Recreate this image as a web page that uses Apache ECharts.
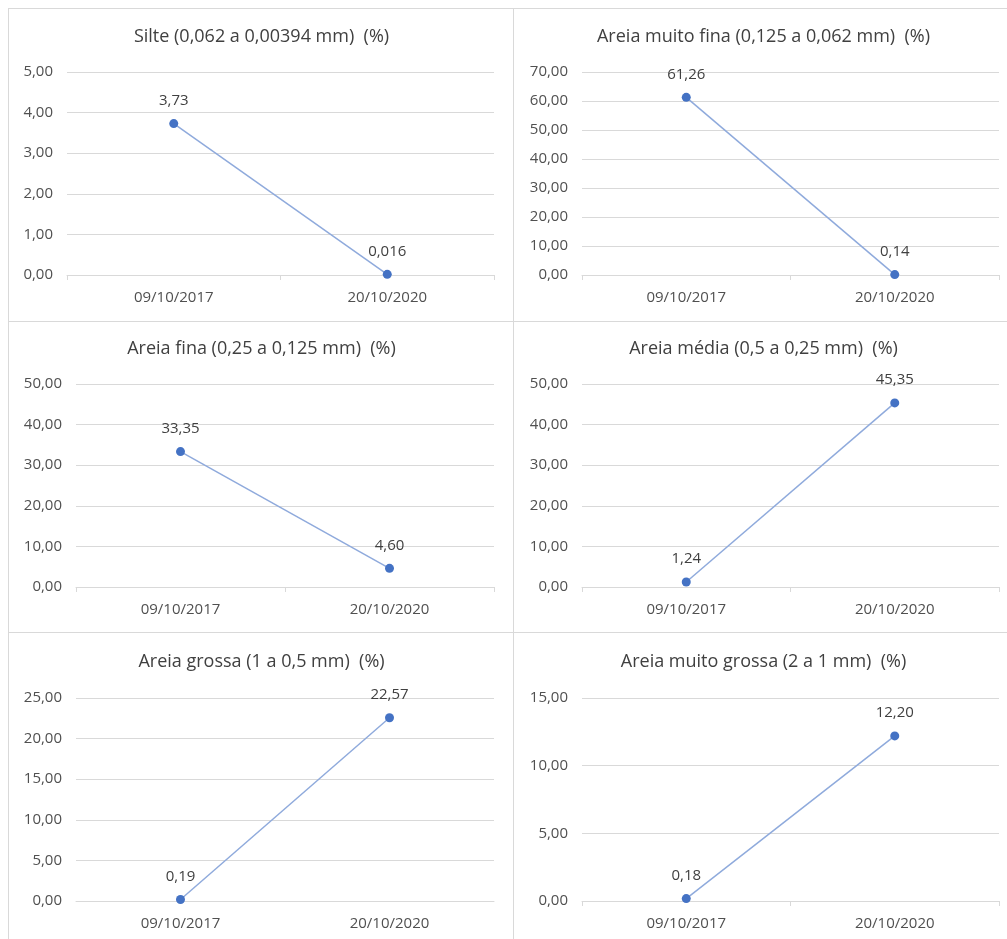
<!DOCTYPE html>
<html>
<head>
<meta charset="utf-8">
<script src="https://cdn.jsdelivr.net/npm/echarts@6/dist/echarts.min.js"></script>
<style>
  body { margin: 0; background: #fff; }
  .cell { position: absolute; border-left: 1px solid #d9d9d9; border-top: 1px solid #d9d9d9; box-sizing: border-box; }
</style>
</head>
<body>
<div id="c1" class="cell" style="left:8px;top:8px;width:506px;height:314px"></div>
<div id="c2" class="cell" style="left:513px;top:8px;width:500px;height:314px"></div>
<div id="c3" class="cell" style="left:8px;top:321px;width:506px;height:312px"></div>
<div id="c4" class="cell" style="left:513px;top:321px;width:500px;height:312px"></div>
<div id="c5" class="cell" style="left:8px;top:632px;width:506px;height:320px"></div>
<div id="c6" class="cell" style="left:513px;top:632px;width:500px;height:320px"></div>
<script>
const dates = ['09/10/2017', '20/10/2020'];

const silte = [3.73, 0.016];
const areiaMuitoFina = [61.26, 0.14];
const areiaFina = [33.35, 4.60];
const areiaMedia = [1.24, 45.35];
const areiaGrossa = [0.19, 22.57];
const areiaMuitoGrossa = [0.18, 12.20];

const titles = [
  'Silte (0,062 a 0,00394 mm)  (%)',
  'Areia muito fina (0,125 a 0,062 mm)  (%)',
  'Areia fina (0,25 a 0,125 mm)  (%)',
  'Areia média (0,5 a 0,25 mm)  (%)',
  'Areia grossa (1 a 0,5 mm)  (%)',
  'Areia muito grossa (2 a 1 mm)  (%)'
];
const yMax = [5, 70, 50, 50, 25, 15];
const yStep = [1, 10, 10, 10, 5, 5];

const FONT = 'Open Sans';
const fmt = (v, d) => v.toFixed(d).replace('.', ',');

// grid placement inside each cell
const panels = [
  { id: 'c1', data: silte, left: 58, right: 20, top: 63, titleTop: 14, ticks: true },
  { id: 'c2', data: areiaMuitoFina, left: 68, right: 14, top: 63, titleTop: 14, ticks: true },
  { id: 'c3', data: areiaFina, left: 67, right: 20, top: 62, titleTop: 13, ticks: true },
  { id: 'c4', data: areiaMedia, left: 68, right: 14, top: 62, titleTop: 13, ticks: true },
  { id: 'c5', data: areiaGrossa, left: 67, right: 20, top: 65, titleTop: 15, ticks: false },
  { id: 'c6', data: areiaMuitoGrossa, left: 68, right: 14, top: 65, titleTop: 15, ticks: true }
];

panels.forEach((p, i) => {
  const chart = echarts.init(document.getElementById(p.id));
  chart.setOption({
    animation: false,
    title: {
      text: titles[i],
      left: 'center',
      top: p.titleTop,
      textStyle: { fontFamily: FONT, fontSize: 18, fontWeight: 'normal', color: '#404040' }
    },
    grid: { left: p.left, right: p.right, top: p.top, height: 203 },
    xAxis: {
      type: 'category',
      data: dates,
      boundaryGap: true,
      axisLine: { lineStyle: { color: '#d9d9d9' } },
      axisTick: { show: p.ticks, length: 5, lineStyle: { color: '#d9d9d9' } },
      axisLabel: { color: '#505050', fontFamily: FONT, fontSize: 15, margin: 15 }
    },
    yAxis: {
      type: 'value',
      min: 0,
      max: yMax[i],
      interval: yStep[i],
      axisLine: { show: false },
      axisTick: { show: false },
      splitLine: { lineStyle: { color: '#d9d9d9' } },
      axisLabel: {
        color: '#505050', fontFamily: FONT, fontSize: 15, margin: 14,
        formatter: v => fmt(v, 2)
      }
    },
    series: [{
      type: 'line',
      data: p.data,
      symbol: 'circle',
      symbolSize: 9,
      itemStyle: { color: '#4472c4' },
      lineStyle: { color: '#8faadc', width: 1.5 },
      label: {
        show: true,
        position: 'top',
        distance: 11,
        color: '#404040',
        fontFamily: FONT,
        fontSize: 15,
        formatter: d => fmt(d.value, d.value >= 0.1 ? 2 : 3)
      }
    }]
  });
});
</script>
</body>
</html>
